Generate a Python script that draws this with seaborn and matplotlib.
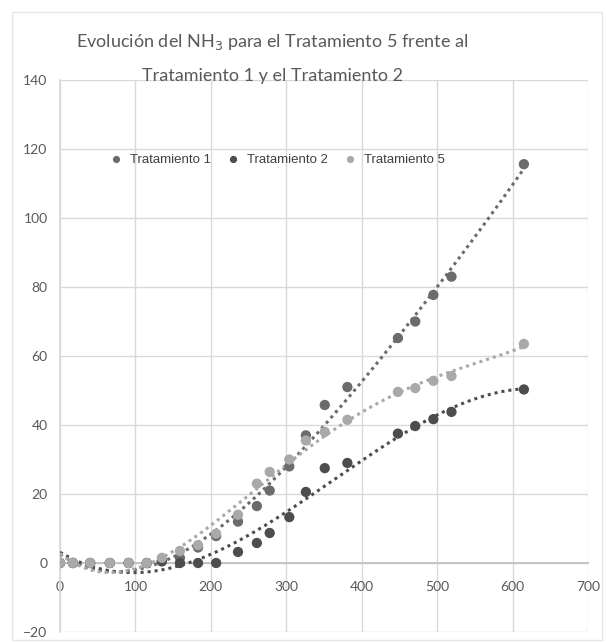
import numpy as np
import pandas as pd
import matplotlib
matplotlib.use("Agg")
import matplotlib.pyplot as plt
import seaborn as sns
from matplotlib.patches import Rectangle

# ---- data ----
tiempo = [0, 17, 40, 66, 91, 115, 135, 159, 183, 207, 236, 261, 278, 304, 326, 351, 381, 448, 471, 495, 519, 615]
trat1 = [0, 0, 0, 0, 0, 0, 0.5, 1.5, 4.5, 7.8, 12, 16.5, 21, 28, 37, 45.8, 51, 65.2, 70, 77.7, 83, 115.6]
trat2 = [0, 0, 0, 0, 0, 0, 0.5, 0, 0, 0, 3.2, 5.8, 8.7, 13.3, 20.6, 27.5, 29, 37.5, 39.7, 41.7, 43.8, 50.3]
trat5 = [0, 0, 0, 0, 0, 0, 1.5, 3.5, 5.2, 8.5, 14, 23, 26.4, 30, 35.5, 38, 41.5, 49.6, 50.7, 52.8, 54.2, 63.5]
series_names = ["Tratamiento 1", "Tratamiento 2", "Tratamiento 5"]
trend_order = [4, 3, 4]
x_ticks = [0, 100, 200, 300, 400, 500, 600, 700]
y_ticks = [-20, 0, 20, 40, 60, 80, 100, 120, 140]

colors = {"Tratamiento 1": "#6b6b6b", "Tratamiento 2": "#4d4d4d", "Tratamiento 5": "#a9a9a9"}

df = pd.DataFrame({
    "t": tiempo * 3,
    "NH3": trat1 + trat2 + trat5,
    "serie": [series_names[0]] * len(tiempo) + [series_names[1]] * len(tiempo) + [series_names[2]] * len(tiempo),
})

sns.set_theme(style="white")
plt.rcParams['font.family'] = ['Liberation Sans', 'DejaVu Sans']

fig = plt.figure(figsize=(6.06, 6.42), dpi=100)
ax = fig.add_axes([60 / 606, 1 - 632 / 642, 528 / 606, 552 / 642])

# outer chart border
fig.patches.append(Rectangle((12 / 606, 2 / 642), 590 / 606, 628 / 642, transform=fig.transFigure,
                             fill=False, edgecolor="#e6e6e6", linewidth=1.0))

# polynomial trendlines drawn from the data
xs = np.linspace(min(tiempo), max(tiempo), 200)
for name, vals, order in zip(series_names, [trat1, trat2, trat5], trend_order):
    coef = np.polyfit(tiempo, vals, order)
    ax.plot(xs, np.polyval(coef, xs), linestyle=(0, (1, 1.3)), linewidth=2.2,
            color=colors[name], zorder=3)

sns.scatterplot(data=df, x="t", y="NH3", hue="serie", palette=colors, s=55,
                edgecolor="none", ax=ax, zorder=4, legend=True)

ax.set_xlim(0, 700)
ax.set_ylim(-20, 140)
ax.set_xticks(x_ticks)
ax.set_yticks(y_ticks)
ax.grid(True, color="#d9d9d9", linewidth=1.0)
ax.set_axisbelow(True)
for s in ["top", "right"]:
    ax.spines[s].set_visible(False)
ax.spines["left"].set_color("#d9d9d9")
ax.spines["bottom"].set_position(("data", 0))
ax.spines["bottom"].set_color("#bfbfbf")
ax.spines["bottom"].set_zorder(1)
ax.tick_params(axis="both", length=0, labelsize=10, labelcolor="#595959")
ax.tick_params(axis="x", pad=13)
ax.tick_params(axis="y", pad=9)
for lab in ax.get_xticklabels() + ax.get_yticklabels():
    lab.set_family(["Lato", "DejaVu Sans"])
ax.set_xlabel("")
ax.set_ylabel("")

leg = ax.legend(loc="center", bbox_to_anchor=(274 / 606, 1 - 160 / 642), bbox_transform=fig.transFigure,
                ncol=3, frameon=False, handletextpad=0.05, columnspacing=0.7, fontsize=9.5,
                markerscale=0.7, borderpad=0)
for t in leg.get_texts():
    t.set_color("#404040")

fig.text(272 / 606, 1 - 42 / 642, "Evolución del NH$_3$ para el Tratamiento 5 frente al",
         ha="center", va="center", fontsize=13, color="#595959", family=["Lato", "DejaVu Sans"])
fig.text(272 / 606, 1 - 76 / 642, "Tratamiento 1 y el Tratamiento 2",
         ha="center", va="center", fontsize=13, color="#595959", family=["Lato", "DejaVu Sans"])

fig.savefig("out.png", dpi=100, facecolor="white")
